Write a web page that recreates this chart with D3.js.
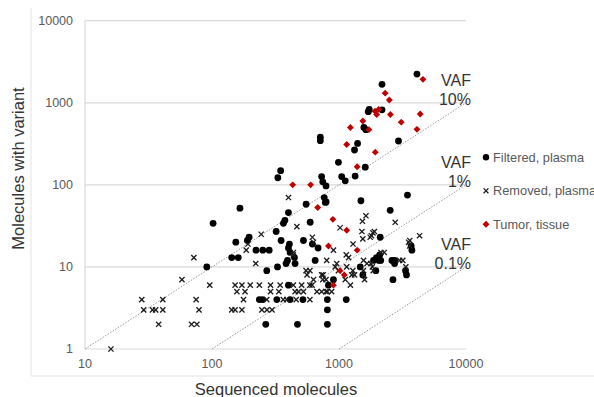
<!DOCTYPE html>
<html>
<head>
<meta charset="utf-8">
<script src="https://cdn.jsdelivr.net/npm/d3@7"></script>
<style>
  body { margin: 0; background: #fff; }
  svg { font-family: "Liberation Sans", Arial, sans-serif; }
</style>
</head>
<body>
<svg id="chart" width="594" height="397"></svg>
<script>
// [sequenced molecules, molecules with variant]
var filtered = [
  [91,10],[102,34],[166,52],[551,58],[792,62],[1488,64],[2530,49],
  [400,46],[375,37],[365,34],[593,35],[320,27],[196,23],[190,21],[154,20],[350,21],[407,19],[525,21],
  [222,16],[251,16],[282,16],[400,17],[412,15],[143,13],[161,13],[393,12],[446,13],[649,12],
  [270,9],[328,10],[383,11],[451,11],[1470,10],[1540,8],[1950,9],[1870,12],[2110,23],[1970,13],[2130,12],[2610,12],[2660,7],
  [904,7],[826,6],[400,6],[236,4],[250,4],[324,4],[412,4],[520,4],[810,4],[1140,4],[810,3],[265,2],[471,2],[810,2],
  [617,19],[684,17],[347,149],[330,122],
  [1400,320],[1325,266],[2940,342],[990,188],[1610,164],[1050,126],[1340,128],[1120,112],[790,97],[730,126],[745,109],[765,70],[780,61],
  [3460,75],[3700,18],[3750,16],[2090,14],[2060,12],[2740,12],[2740,11],[3340,9],[3400,8],
  [4110,2240],[2180,1680],[2180,820],[1730,830],[1700,780],[1570,500],[1630,470],[713,380],[713,345]
];

var removed = [
  [16,1],[28,4],[29,3],[34,3],[36,3],[41,4],[41,3],[38,2],[58,7],[72,13],[75,4],[79,3],[69,2],[76,2],[96,6],
  [1630,42],[1530,36],[2770,35],[466,31],[244,25],[1515,27],[1900,27],[1540,22],[1800,24],[192,19],[186,16],[630,20],[904,16],[1290,19],[438,15],
  [800,12],[960,11],[1560,12],[2140,15],[2270,15],[1780,11],[550,9],[590,9],[730,8],[1150,10],[1260,8],[1860,9],[1590,7],[560,8],[745,7],[790,7],[1120,7],[1230,6],[630,7],[590,6],[670,5],[790,5],[480,5],
  [152,6],[172,6],[200,6],[236,6],[289,6],[344,6],[437,6],[508,6],[614,6],
  [157,5],[182,5],[289,5],[336,5],[451,5],[525,5],
  [177,4],[270,4],[364,4],[460,4],[590,4],[388,4],
  [143,3],[152,3],[172,3],[247,3],[271,3],[297,3],
  [400,70],[617,23],[437,14],[221,11],
  [1020,30],[1760,23],[1850,26],[3530,20],[1140,14],[1190,13],[1660,11],[3000,12],[3180,12],[1830,10],[933,10],[990,9],[1285,9],[1325,8],[1557,9],[1557,8],[750,8],[730,5],[810,5],[875,5],
  [4310,24],[3610,21],[3610,18],[3360,10]
];

var tumor = [
  [4580,1930],[2310,1310],[2490,1080],[2050,830],[1980,720],[1920,790],[2540,720],[4360,730],[3090,580],
  [1540,600],[1230,500],[1720,470],[4110,475],[1150,310],[1930,250],[1390,166],[895,38],[1150,28],
  [826,18],[1390,16],[1020,9],[1100,8],[904,6],[680,53],[432,100],[598,100]
];

var xTicks = [10, 100, 1000, 10000];
var yTicks = [1, 10, 100, 1000, 10000];

// VAF guide lines: fraction, start x
var vafLines = [
  { vaf: 0.1, from: 10, label: ["VAF", "10%"] },
  { vaf: 0.01, from: 100, label: ["VAF", "1%"] },
  { vaf: 0.001, from: 1000, label: ["VAF", "0.1%"] }
];

var legendItems = ["Filtered, plasma", "Removed, plasma", "Tumor, tissue"];

var svg = d3.select("#chart");

var x = d3.scaleLog().domain([10, 10000]).range([85, 466]);
var y = d3.scaleLog().domain([1, 10000]).range([349, 20.7]);

// chart area border (left + bottom)
svg.append("line").attr("x1", 31).attr("x2", 31).attr("y1", 8).attr("y2", 376)
  .attr("stroke", "#e3e3e3");
svg.append("line").attr("x1", 31).attr("x2", 594).attr("y1", 376).attr("y2", 376)
  .attr("stroke", "#e3e3e3");

// gridlines
svg.append("g").selectAll("line").data(yTicks).enter().append("line")
  .attr("x1", x(10)).attr("x2", x(10000))
  .attr("y1", d => y(d)).attr("y2", d => y(d))
  .attr("stroke", "#d9d9d9").attr("stroke-width", 1.2);
svg.append("line").attr("x1", x(10)).attr("x2", x(10))
  .attr("y1", y(10000)).attr("y2", y(1))
  .attr("stroke", "#d9d9d9").attr("stroke-width", 1.2);

// tick labels
svg.append("g").selectAll("text").data(yTicks).enter().append("text")
  .attr("x", 73).attr("y", d => y(d)).attr("dy", "0.35em")
  .attr("text-anchor", "end").attr("font-size", 12.5).attr("fill", "#595959")
  .text(d => d);
svg.append("g").selectAll("text").data(xTicks).enter().append("text")
  .attr("x", d => x(d)).attr("y", 364).attr("dy", "0.35em")
  .attr("text-anchor", "middle").attr("font-size", 12.5).attr("fill", "#595959")
  .text(d => d);

// axis titles
svg.append("text")
  .attr("transform", "translate(24,168.5) rotate(-90)")
  .attr("text-anchor", "middle").attr("font-size", 16.5).attr("fill", "#333")
  .text("Molecules with variant");
svg.append("text")
  .attr("x", 276).attr("y", 395)
  .attr("text-anchor", "middle").attr("font-size", 16.5).attr("fill", "#333")
  .text("Sequenced molecules");

// VAF dotted lines
svg.append("g").selectAll("line").data(vafLines).enter().append("line")
  .attr("x1", d => x(d.from)).attr("y1", d => y(d.from * d.vaf))
  .attr("x2", x(10000)).attr("y2", d => y(10000 * d.vaf))
  .attr("stroke", "#9a9a9a").attr("stroke-width", 1)
  .attr("stroke-dasharray", "1.5,1.5");

var vafText = svg.append("g").selectAll("text").data(vafLines).enter().append("text")
  .attr("text-anchor", "end").attr("font-size", 16).attr("fill", "#333");
vafText.each(function (d) {
  var t = d3.select(this);
  var base = y(10000 * d.vaf) - 17;
  d.label.forEach(function (s, i) {
    t.append("tspan").attr("x", 471).attr("y", base + i * 19.5).text(s);
  });
});

// markers
function cross(g, size) {
  g.append("path")
    .attr("d", "M" + (-size) + "," + (-size) + "L" + size + "," + size +
      "M" + (-size) + "," + size + "L" + size + "," + (-size))
    .attr("stroke", "#1a1a1a").attr("stroke-width", 1.3).attr("fill", "none");
}
var diamond = d3.symbol().type(d3.symbolDiamond2).size(30);

svg.append("g").selectAll("circle").data(filtered).enter().append("circle")
  .attr("cx", d => x(d[0])).attr("cy", d => y(d[1])).attr("r", 3.4)
  .attr("fill", "#000");

svg.append("g").selectAll("g").data(removed).enter().append("g")
  .attr("transform", d => "translate(" + x(d[0]) + "," + y(d[1]) + ")")
  .each(function () { cross(d3.select(this), 2.6); });

svg.append("g").selectAll("path").data(tumor).enter().append("path")
  .attr("transform", d => "translate(" + x(d[0]) + "," + y(d[1]) + ")")
  .attr("d", diamond).attr("fill", "#c00000");

// legend
var legend = svg.append("g").selectAll("g").data(legendItems).enter().append("g")
  .attr("transform", (d, i) => "translate(486," + (157.3 + i * 33.5) + ")");
legend.append("text").attr("x", 7).attr("dy", "0.35em")
  .attr("font-size", 12.8).attr("fill", "#595959").text(d => d);
legend.each(function (d, i) {
  var g = d3.select(this);
  if (i == 0) g.append("circle").attr("r", 3.2).attr("fill", "#000");
  else if (i == 1) cross(g, 2.4);
  else g.append("path").attr("d", diamond).attr("fill", "#c00000");
});
</script>
</body>
</html>
